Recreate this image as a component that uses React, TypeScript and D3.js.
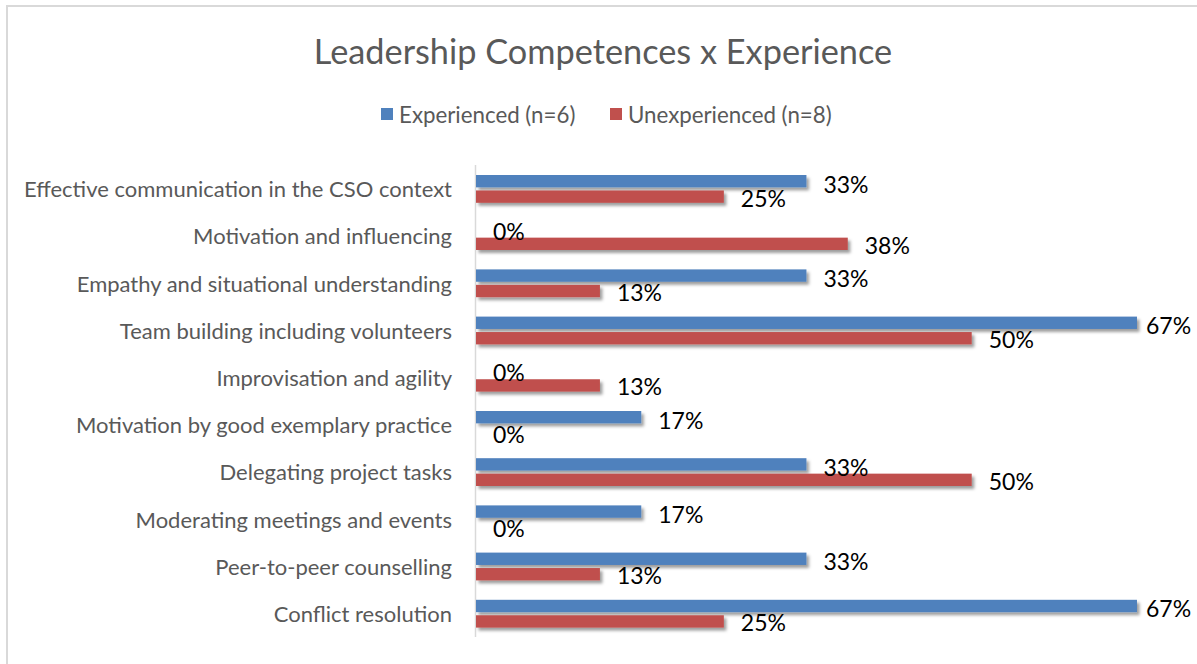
import React from "react";
import * as d3 from "d3";

const categories = [
  "Effective communication in the CSO context",
  "Motivation and influencing",
  "Empathy and situational understanding",
  "Team building including volunteers",
  "Improvisation and agility",
  "Motivation by good exemplary practice",
  "Delegating project tasks",
  "Moderating meetings and events",
  "Peer-to-peer counselling",
  "Conflict resolution",
];
const experienced = [0.3333, 0, 0.3333, 0.6667, 0, 0.1667, 0.3333, 0.1667, 0.3333, 0.6667];
const unexperienced = [0.25, 0.375, 0.125, 0.5, 0.125, 0, 0.5, 0, 0.125, 0.25];
const seriesNames = ["Experienced (n=6)", "Unexperienced (n=8)"];
const seriesColors = ["#4F81BD", "#C0504D"];
const title = "Leadership Competences x Experience";

const W = 1197;
const H = 664;
const FONT = "Lato, 'Open Sans', sans-serif";

export default function App() {
  const x = d3.scaleLinear().domain([0, 0.7]).range([476, 1170]);
  const y = d3.scaleBand<string>().domain(categories).range([165, 637]).padding(0);
  const inner = d3
    .scaleBand<number>()
    .domain([0, 1])
    .range([-13.6, 14.2])
    .paddingInner(0.2);
  const fmt = d3.format(".0%");
  const series = [experienced, unexperienced];

  return (
    <svg
      width={W}
      height={H}
      style={{ position: "absolute", left: 0, top: 0, background: "#fff" }}
      fontFamily={FONT}
    >
      <defs>
        <filter id="shadow" x="-5%" y="-50%" width="110%" height="250%">
          <feDropShadow dx="2.5" dy="3" stdDeviation="1.6" floodColor="#000" floodOpacity="0.38" />
        </filter>
      </defs>
      <rect x={7} y={6} width={1220} height={720} fill="#fff" stroke="#D9D9D9" strokeWidth={2} />
      <text x={603} y={50} textAnchor="middle" dominantBaseline="central" fontSize={34.3} fill="#595959">
        {title}
      </text>
      {seriesNames.map((name, i) => {
        const lx = i === 0 ? 381 : 610;
        return (
          <g key={name}>
            <rect x={lx} y={108} width={12} height={12} fill={seriesColors[i]} />
            <text x={lx + 18} y={114} dominantBaseline="central" fontSize={22.3} fill="#595959">
              {name}
            </text>
          </g>
        );
      })}
      <line x1={475.5} x2={475.5} y1={165} y2={637} stroke="#D9D9D9" strokeWidth={1.5} />
      {categories.map((c) => {
        const cy = (y(c) ?? 0) + y.bandwidth() / 2;
        return (
          <text key={c} x={452} y={cy} textAnchor="end" dominantBaseline="central" fontSize={22} fill="#595959">
            {c}
          </text>
        );
      })}
      {series.map((vals, si) => (
        <g key={si}>
          {vals.map((v, ci) => {
            const cy = (y(categories[ci]) ?? 0) + y.bandwidth() / 2;
            const by = cy + (inner(si) ?? 0);
            const bw = x(v) - x(0);
            return bw > 0 ? (
              <rect
                key={ci}
                x={x(0)}
                y={by}
                width={bw}
                height={inner.bandwidth()}
                fill={seriesColors[si]}
                filter="url(#shadow)"
              />
            ) : null;
          })}
        </g>
      ))}
      {series.map((vals, si) => (
        <g key={"l" + si}>
          {vals.map((v, ci) => {
            const cy = (y(categories[ci]) ?? 0) + y.bandwidth() / 2;
            const by = cy + (inner(si) ?? 0) + inner.bandwidth() / 2;
            const lx = Math.min(x(v) + 17, 1146);
            return (
              <text key={ci} x={lx} y={by + (si === 0 ? 2.5 : 1)} dominantBaseline="central" fontSize={23} fill="#000">
                {fmt(v)}
              </text>
            );
          })}
        </g>
      ))}
    </svg>
  );
}
